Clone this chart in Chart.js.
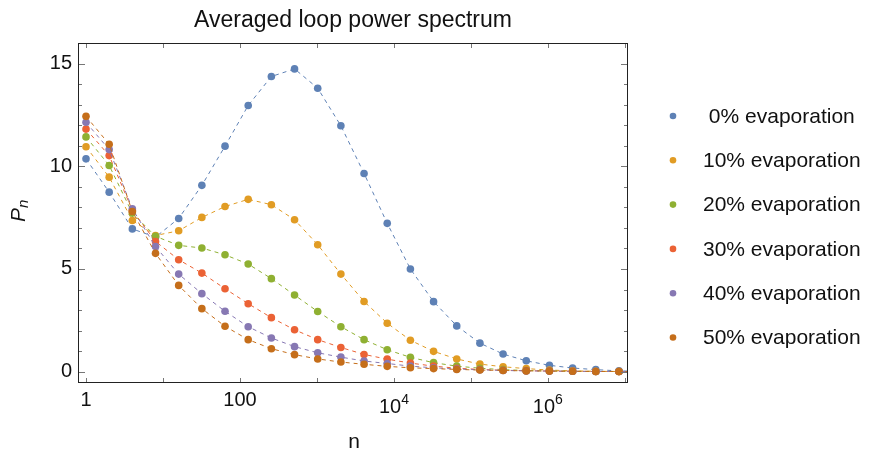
<!DOCTYPE html>
<html>
<head>
<meta charset="utf-8">
<title>Averaged loop power spectrum</title>
<script src="https://cdn.jsdelivr.net/npm/chart.js@4.4.1/dist/chart.umd.min.js"></script>
<style>
  html, body { margin: 0; padding: 0; background: #fff; }
  #wrap { width: 869px; height: 451px; }
</style>
</head>
<body>
<div id="wrap"><canvas id="spectrum" width="869" height="451"></canvas></div>
<script>
// --- DATA ---
// loop sizes n = 2^k (last one sits just past the right edge of the frame)
const loopSizes = [1, 2, 4, 8, 16, 32, 64, 128, 256, 512, 1024, 2048, 4096, 8192,
    16384, 32768, 65536, 131072, 262144, 524288, 1048576, 2097152, 4194304, 8388608, 16777216];

const seriesLabels = [' 0% evaporation', '10% evaporation', '20% evaporation',
    '30% evaporation', '40% evaporation', '50% evaporation'];

const evap0 = [10.36, 8.74, 6.95, 6.55, 7.46, 9.07, 10.98, 12.96, 14.37, 14.74, 13.80, 11.97,
    9.65, 7.22, 5.00, 3.41, 2.23, 1.39, 0.86, 0.53, 0.31, 0.18, 0.10, 0.04, 0.02];
const evap10 = [10.95, 9.47, 7.36, 6.63, 6.86, 7.51, 8.04, 8.39, 8.13, 7.40, 6.18, 4.75,
    3.42, 2.36, 1.53, 0.99, 0.62, 0.37, 0.24, 0.15, 0.08, 0.04, 0.02, 0.01, 0.01];
const evap20 = [11.43, 10.04, 7.72, 6.59, 6.15, 6.02, 5.69, 5.24, 4.53, 3.73, 2.93, 2.19,
    1.56, 1.07, 0.70, 0.44, 0.27, 0.17, 0.10, 0.06, 0.04, 0.02, 0.01, 0.01, 0.0];
const evap30 = [11.81, 10.52, 7.85, 6.34, 5.45, 4.80, 4.04, 3.31, 2.63, 2.04, 1.56, 1.18,
    0.84, 0.61, 0.42, 0.27, 0.17, 0.11, 0.07, 0.05, 0.03, 0.02, 0.01, 0.01, 0.0];
const evap40 = [12.14, 10.81, 7.93, 6.09, 4.75, 3.80, 2.94, 2.19, 1.64, 1.22, 0.92, 0.71,
    0.52, 0.40, 0.27, 0.19, 0.13, 0.09, 0.06, 0.04, 0.03, 0.02, 0.01, 0.01, 0.0];
const evap50 = [12.43, 11.07, 7.80, 5.76, 4.20, 3.07, 2.21, 1.56, 1.12, 0.83, 0.62, 0.47,
    0.36, 0.26, 0.19, 0.15, 0.11, 0.08, 0.06, 0.04, 0.03, 0.02, 0.01, 0.01, 0.0];

const xTickValues = [1, 100, 1e4, 1e6];
const xTickLabels = ['1', '100', '10^4', '10^6'];
const yTickValues = [0, 5, 10, 15];

// Mathematica default palette
const colors = ['#5e81b5', '#e19c24', '#8fb032', '#eb6235', '#8778b3', '#c56e1a'];
const FONT = '"Liberation Sans", Arial, Helvetica, sans-serif';

const allSeries = [evap0, evap10, evap20, evap30, evap40, evap50];

const datasets = allSeries.map((values, i) => ({
    label: seriesLabels[i],
    data: values.map((v, k) => ({ x: loopSizes[k], y: v })),
    borderColor: colors[i],
    backgroundColor: colors[i],
    borderWidth: 1,
    borderDash: [4, 4],
    pointRadius: 3.8,
    pointHoverRadius: 3.8,
    pointBorderWidth: 0,
    tension: 0,
    order: allSeries.length - i, // later series drawn on top
}));

// frame, inward ticks, title, legend, axis labels
const decorations = {
    id: 'decorations',
    afterDatasetsDraw(chart) {
        const { ctx, chartArea: a, scales: { x, y } } = chart;
        ctx.save();
        ctx.strokeStyle = '#777';
        ctx.lineWidth = 1;
        ctx.beginPath();
        for (let v = 0; v <= 16; v++) {
            const py = Math.round(y.getPixelForValue(v)) + 0.5;
            const len = v % 5 === 0 ? 7 : 4;
            ctx.moveTo(a.left, py);
            ctx.lineTo(a.left + len, py);
            ctx.moveTo(a.right, py);
            ctx.lineTo(a.right - len, py);
        }
        for (let e = 0; e <= 7; e++) {
            const px = Math.round(x.getPixelForValue(Math.pow(10, e))) + 0.5;
            ctx.moveTo(px, a.bottom);
            ctx.lineTo(px, a.bottom - 5);
            ctx.moveTo(px, a.top);
            ctx.lineTo(px, a.top + 5);
        }
        ctx.stroke();
        ctx.strokeStyle = '#222';
        ctx.strokeRect(a.left + 0.5, a.top + 0.5, a.right - a.left - 1, a.bottom - a.top - 1);
        ctx.restore();
    },
    afterDraw(chart) {
        const { ctx, scales: { x } } = chart;
        ctx.save();
        ctx.fillStyle = '#111';

        // title
        ctx.font = `23px ${FONT}`;
        ctx.textAlign = 'center';
        ctx.textBaseline = 'alphabetic';
        ctx.fillText('Averaged loop power spectrum', 353, 27);

        // x tick labels (powers written with a raised exponent)
        xTickLabels.forEach((label, i) => {
            const px = x.getPixelForValue(xTickValues[i]);
            const [base, exp] = label.split('^');
            if (!exp) {
                ctx.font = `20px ${FONT}`;
                ctx.textAlign = 'center';
                ctx.fillText(base, px, 405.5);
                return;
            }
            ctx.textAlign = 'left';
            ctx.font = `20px ${FONT}`;
            const wb = ctx.measureText(base).width;
            ctx.font = `14px ${FONT}`;
            const we = ctx.measureText(exp).width;
            const start = px - (wb + we) / 2;
            ctx.font = `20px ${FONT}`;
            ctx.fillText(base, start, 412.5);
            ctx.font = `14px ${FONT}`;
            ctx.fillText(exp, start + wb, 404);
        });

        // x axis label
        ctx.textAlign = 'center';
        ctx.font = `21px ${FONT}`;
        ctx.fillText('n', 354, 448);

        // y axis label P_n
        ctx.save();
        ctx.translate(25, 222);
        ctx.rotate(-Math.PI / 2);
        ctx.textAlign = 'left';
        ctx.font = `italic 21px ${FONT}`;
        ctx.fillText('P', 0, 0);
        ctx.font = `italic 15px ${FONT}`;
        ctx.fillText('n', 14, 3);
        ctx.restore();

        // legend
        ctx.textAlign = 'left';
        ctx.textBaseline = 'middle';
        ctx.font = `21px ${FONT}`;
        seriesLabels.forEach((label, i) => {
            const rowY = 116 + i * 44.3;
            ctx.fillStyle = colors[i];
            ctx.beginPath();
            ctx.arc(673, rowY, 3.3, 0, Math.PI * 2);
            ctx.fill();
            ctx.fillStyle = '#111';
            ctx.fillText(label, 703, rowY + 1);
        });
        ctx.restore();
    },
};

const chart = new Chart(document.getElementById('spectrum'), {
    type: 'line',
    data: { datasets },
    options: {
        responsive: false,
        animation: false,
        layout: { padding: { top: 43, right: 241, bottom: 0, left: 0 } },
        plugins: {
            legend: { display: false },
            title: { display: false },
            tooltip: { enabled: false },
        },
        scales: {
            x: {
                type: 'logarithmic',
                min: 0.787,
                max: 1.1e7,
                grid: { display: false, drawTicks: false },
                border: { display: false },
                afterFit: (scale) => { scale.height = 68; },
                afterBuildTicks: (scale) => {
                    scale.ticks = xTickValues.map((v) => ({ value: v }));
                },
                ticks: { display: false },
            },
            y: {
                min: -0.55,
                max: 16,
                grid: { display: false, drawTicks: false },
                border: { display: false },
                afterFit: (scale) => { scale.width = 78; },
                afterBuildTicks: (scale) => {
                    scale.ticks = yTickValues.map((v) => ({ value: v }));
                },
                ticks: {
                    padding: 6,
                    color: '#111',
                    font: { family: FONT, size: 20 },
                },
            },
        },
    },
    plugins: [decorations],
});
</script>
</body>
</html>
